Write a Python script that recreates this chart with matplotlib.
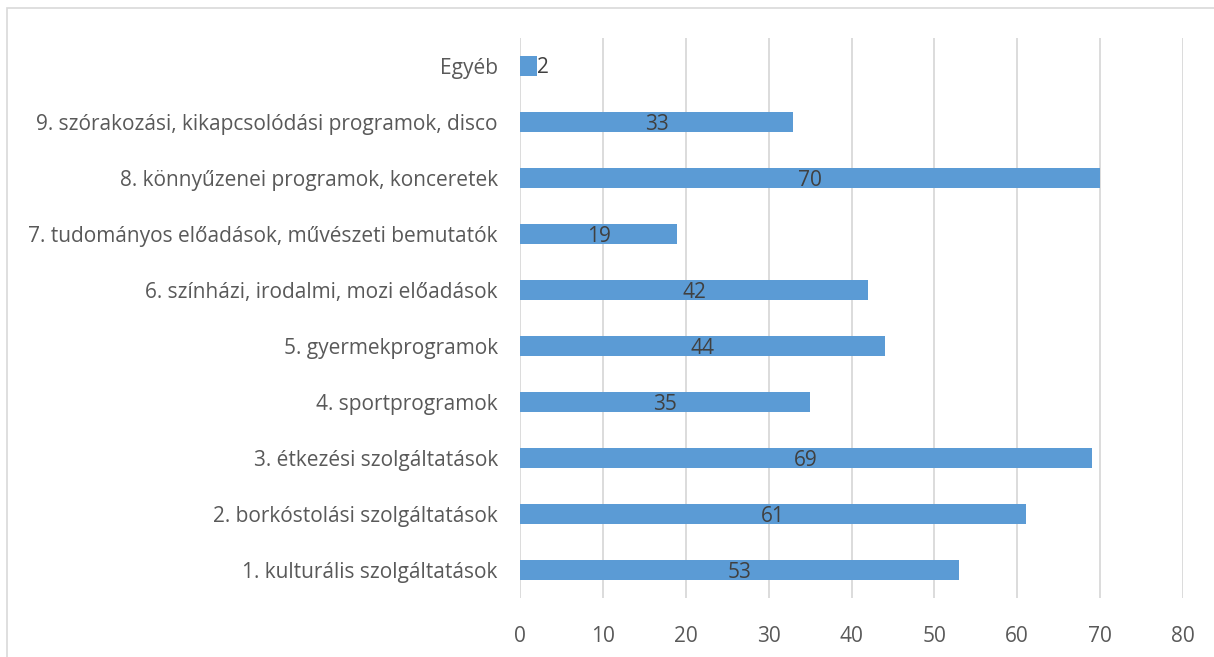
import matplotlib.pyplot as plt
from matplotlib.patches import Rectangle

categories = ["1. kulturális szolgáltatások", "2. borkóstolási szolgáltatások",
              "3. étkezési szolgáltatások", "4. sportprogramok", "5. gyermekprogramok",
              "6. színházi, irodalmi, mozi előadások",
              "7. tudományos előadások, művészeti bemutatók",
              "8. könnyűzenei programok, konceretek",
              "9. szórakozási, kikapcsolódási programok, disco", "Egyéb"]
values = [53, 61, 69, 35, 44, 42, 19, 70, 33, 2]
xticks = [0, 10, 20, 30, 40, 50, 60, 70, 80]

plt.rcParams['font.family'] = ['Open Sans', 'DejaVu Sans']

fig = plt.figure(figsize=(12.14, 6.57), dpi=100)
ax = fig.add_axes([520 / 1214, 1 - 598 / 657, 663 / 1214, 560 / 657])

ypos = list(range(len(categories)))
bars = ax.barh(ypos, values, height=0.34, color="#5B9BD5", zorder=2)

for y, v in zip(ypos, values):
    if v < 5:
        ax.text(v + 0.05, y - 0.03, str(v), ha="left", va="center", fontsize=15, color="#404040", zorder=3)
    else:
        ax.text(v / 2, y - 0.05, str(v), ha="center", va="center", fontsize=15, color="#404040", zorder=3)

ax.set_xlim(0, 80)
ax.set_ylim(-0.5, len(categories) - 0.5)
ax.set_xticks(xticks)
ax.set_xticklabels([str(t) for t in xticks])
ax.set_yticks(ypos)
ax.set_yticklabels(categories)
ax.tick_params(axis="both", length=0, labelsize=15, colors="#595959")
ax.tick_params(axis="x", pad=20)
ax.tick_params(axis="y", pad=16)
ax.grid(axis="x", color="#D9D9D9", linewidth=1.3, zorder=0)
for s in ax.spines.values():
    s.set_visible(False)

fig.patches.append(Rectangle((7 / 1214, -0.1), 1.2, 1 - 8 / 657 + 0.1,
                             transform=fig.transFigure, fill=False,
                             edgecolor="#D9D9D9", linewidth=1.2))

fig.savefig("out.png", dpi=100)
